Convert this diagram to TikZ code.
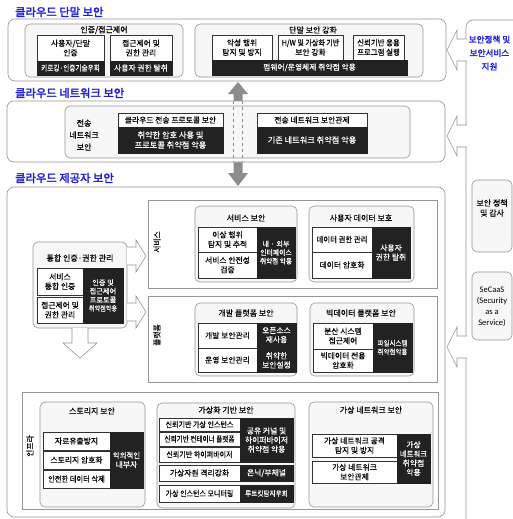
\documentclass[tikz,border=0pt]{standalone}
\usepackage{fontspec}
\setmainfont{Noto Sans CJK KR}[FakeBold=0.35, AutoFakeBold=2.2]
\newfontfamily\lat{Carlito}
\usepackage{graphicx}
\usetikzlibrary{fit}
\definecolor{ttlc}{RGB}{30,30,215}
\definecolor{kfill}{RGB}{34,34,34}
\definecolor{bdc}{RGB}{150,150,150}
\newcommand\cx[2]{\scalebox{#1}[1]{#2}}
\tikzset{
  shp/.style={inner sep=0pt, outer sep=0pt, line width=0.6pt},
  obox/.style={shp, draw=bdc, fill=white, rounded corners=7pt},
  grp/.style={shp, draw=bdc, fill=black!3, rounded corners=5pt},
  lyr/.style={shp, draw=bdc, fill=white},
  wb/.style={shp, draw=black!80, fill=white, line width=0.5pt},
  kb/.style={shp, draw=kfill, fill=kfill, line width=0.5pt},
  tx/.style={inner sep=0pt, align=center, font=\fontsize{7.8}{9.5}\selectfont},
  tk/.style={inner sep=0pt, align=center, text=white, font=\fontsize{7.8}{9.2}\selectfont},
  tkl/.style={tk, font=\fontsize{8.2}{10}\selectfont},
  tks/.style={tk, font=\fontsize{7.2}{8.6}\selectfont},
  gt/.style={inner sep=0pt, font=\fontsize{8}{9}\selectfont},
  sect/.style={inner sep=0pt, anchor=west, text=ttlc, font=\fontsize{11.3}{12}\selectfont\bfseries},
  vl/.style={inner sep=0pt, rotate=90, font=\fontsize{7.8}{9}\selectfont},
  holl/.style={draw=bdc, fill=white, line width=0.6pt},
}
\newcommand\bx[5]{\node[#1, fit={#2}] (#3) {};\node[#4] (#3t) at (#3.center) {#5};}
\newcommand\larr[2]{\draw[holl] (#1+20,#2-11) -- (#1+10,#2-11) -- (#1+10,#2-20) -- (#1,#2) -- (#1+10,#2+20) -- (#1+10,#2+11) -- (#1+20,#2+11);}
\begin{document}
\begin{tikzpicture}[x=1pt,y=-1pt]
\useasboundingbox (0,0) rectangle (513,519);
\clip (0,0) rectangle (513,519);
\fill[white] (0,0) rectangle (513,519);

% ---------- right panel ----------
\node[obox, fit={(466,20)(560,560)}] (RP) {};
\node[inner sep=0pt, align=center, text=ttlc, font=\fontsize{8.6}{13.5}\selectfont\bfseries] (RPt) at (489.5,53) {보안정책 및\\보안서비스\\지원};
\bx{grp}{(472,180)(512,252)}{RS}{gt}{}
\node[inner sep=0pt, align=center, font=\fontsize{8}{10}\selectfont] (RSx) at (492,208) {보안 정책\\및 감사};
\bx{grp}{(472,272)(512,340)}{SC}{tx}{}
\node[inner sep=0pt, align=center, font=\lat\fontsize{8.5}{11}\selectfont] (SCx) at (492,307) {SeCaaS\\(Security\\as a\\Service)};
\larr{447}{50}
\larr{447}{136}
\larr{447}{347}

% ---------- terminal ----------
\node[sect] (st1) at (15,12) {클라우드 단말 보안};
\node[obox, fit={(8,19)(446,81)}] (OT) {};
\node[grp, fit={(25,24)(183,77)}] (G1) {};
\node[gt] (G1t) at (104,30) {인증/접근제어};
\bx{wb}{(37,35)(104,61)}{W1}{tx}{사용자/단말\\인증}
\bx{kb}{(37,61)(104,75)}{K1}{tk}{\cx{0.85}{키로깅·인증기술우회}}
\bx{wb}{(110,35)(172,61)}{W2}{tx}{접근제어 및\\권한 관리}
\bx{kb}{(110,61)(172,75)}{K2}{tk}{사용자 권한 탈취}
\node[grp, fit={(195,24)(423,77)}] (G2) {};
\node[gt] (G2t) at (313,30) {단말 보안 강화};
\bx{wb}{(212,35)(272,60)}{W3}{tx}{악성 행위\\탐지 및 방지}
\bx{wb}{(278,35)(343,60)}{W4}{tx}{\cx{0.9}{H/W 및 가상화 기반}\\보안 강화}
\bx{wb}{(353,35)(404,60)}{W5}{tx}{\cx{0.95}{신뢰기반 응용}\\\cx{0.95}{프로그램 실행}}
\bx{kb}{(212,60)(407,75)}{K3}{tk}{펌웨어/운영체제 취약점 악용}

% ---------- gray double arrow ----------
\fill[black!45] (238,82) -- (248,94) -- (242.5,94) -- (242.5,173) -- (248,173) -- (238,186) -- (228,173) -- (233.5,173) -- (233.5,94) -- (228,94) -- cycle;

% ---------- network ----------
\node[sect] (st2) at (15,93) {클라우드 네트워크 보안};
\node[obox, fit={(7,101)(445,162)}] (ON) {};
\node[grp, fit={(65,106)(410,158)}] (IN) {};
\node[inner sep=0pt, align=center, font=\fontsize{8}{12}\selectfont] (INt) at (84,135) {전송\\네트워크\\보안};
\bx{wb}{(118,113)(223,127)}{W6}{tx}{클라우드 전송 프로토콜 보안}
\bx{kb}{(118,127)(223,153)}{K4}{tkl}{취약한 암호 사용 및\\프로토콜 취약점 악용}
\bx{wb}{(257,113)(367,127)}{W7}{tx}{전송 네트워크 보안관제}
\bx{kb}{(257,127)(367,153)}{K5}{tkl}{기존 네트워크 취약점 악용}
\draw[dashed, black!45, line width=0.4pt] (233.5,101) -- (233.5,162) (242.5,101) -- (242.5,162);

% ---------- provider ----------
\node[sect] (st3) at (15,178) {클라우드 제공자 보안};
\node[obox, fit={(7,187)(445,517)}] (OP) {};

% integrated auth
\node[grp, fit={(33,242)(127,328)}] (GA) {};
\node[gt] (GAt) at (80,258) {통합 인증·권한 관리};
\bx{wb}{(37,268)(83,295)}{WA1}{tx}{서비스\\통합 인증}
\bx{wb}{(37,297)(83,323)}{WA2}{tx}{접근제어 및\\권한 관리}
\bx{kb}{(83,268)(123,323)}{KA}{tks}{인증 및\\접근제어\\프로토콜\\\cx{0.85}{취약점악용}}
\draw[holl] (127,247) -- (136,247) -- (136,240) -- (146,256) -- (136,272) -- (136,265) -- (127,265);
\draw[holl] (127,303) -- (136,303) -- (136,296) -- (146,312) -- (136,328) -- (136,321) -- (127,321);
\draw[holl] (72,328) -- (72,343) -- (63,343) -- (80,358) -- (97,343) -- (88,343) -- (88,328);

% service layer
\node[lyr, fit={(148,200)(437,288)}] (LS) {};
\node[vl] (LSt) at (157,242) {서비스};
\node[grp, fit={(195,206)(297,282)}] (GS) {};
\node[gt] (GSt) at (246,218) {서비스 보안};
\bx{wb}{(198,227)(257,252)}{WS1}{tx}{이상 행위\\탐지 및 추적}
\bx{wb}{(198,252)(257,278)}{WS2}{tx}{서비스 안전성\\검증}
\bx{kb}{(257,227)(295,278)}{KS}{tks}{내 · 외부\\\cx{0.95}{인터페이스}\\\cx{0.92}{취약점 악용}}
\node[grp, fit={(309,206)(414,282)}] (GU) {};
\node[gt] (GUt) at (361,218) {사용자 데이터 보호};
\bx{wb}{(312,227)(372,252)}{WU1}{tx}{\cx{0.95}{데이터 권한 관리}}
\bx{wb}{(312,252)(372,278)}{WU2}{tx}{데이터 암호화}
\bx{kb}{(372,227)(410,278)}{KU}{tk}{사용자\\권한 탈취}

% platform layer
\node[lyr, fit={(148,296)(437,382)}] (LP) {};
\node[vl] (LPt) at (157,335) {플랫폼};
\node[grp, fit={(195,303)(297,376)}] (GD) {};
\node[gt] (GDt) at (246,313) {개발 플랫폼 보안};
\bx{wb}{(198,323)(257,348)}{WD1}{tx}{개발 보안관리}
\bx{wb}{(198,348)(257,372)}{WD2}{tx}{운영 보안관리}
\bx{kb}{(257,323)(296,347.3)}{KD1}{tk}{오픈소스\\재사용}
\bx{kb}{(257,348.7)(296,372)}{KD2}{tk}{취약한\\보안설정}
\node[grp, fit={(310,303)(414,376)}] (GB) {};
\node[gt] (GBt) at (361,313) {빅데이터 플랫폼 보안};
\bx{wb}{(313,323)(373,349)}{WB1}{tx}{분산 시스템\\접근제어}
\bx{wb}{(313,349)(373,372)}{WB2}{tx}{빅데이터 전용\\암호화}
\bx{kb}{(373,323)(412,372)}{KB}{tks}{\cx{0.9}{파일시스템}\\\cx{0.9}{취약점악용}}

% infra layer
\node[lyr, fit={(22,392)(438,509)}] (LI) {};
\node[vl] (LIt) at (30,446) {인프라};
\node[grp, fit={(40,402)(145,507)}] (GT) {};
\node[gt] (GTt) at (92,411) {스토리지 보안};
\bx{wb}{(43,432)(110,450)}{WT1}{tx}{자료유출방지}
\bx{wb}{(43,451)(110,469)}{WT2}{tx}{스토리지 암호화}
\bx{wb}{(43,470)(110,488)}{WT3}{tx}{\cx{0.93}{안전한 데이터 삭제}}
\bx{kb}{(110,432)(143,488)}{KT}{tk}{\cx{0.95}{악의적인}\\내부자}
\node[grp, fit={(157,403)(295,508)}] (GV) {};
\node[gt] (GVt) at (226,410) {가상화 기반 보안};
\bx{wb}{(159,418)(240,431)}{WV1}{tx}{\cx{0.9}{신뢰기반 가상 인스턴스}}
\bx{wb}{(159,432)(240,446)}{WV2}{tx}{\cx{0.85}{신뢰기반 컨테이너 플랫폼}}
\bx{wb}{(159,447)(240,462)}{WV3}{tx}{\cx{0.9}{신뢰기반 하이퍼바이저}}
\bx{kb}{(240,418)(293,462)}{KV1}{tk}{공유 커널 및\\하이퍼바이저\\취약점 악용}
\bx{wb}{(159,465)(240,481)}{WV4}{tx}{가상자원 격리강화}
\bx{kb}{(240,465)(293,481)}{KV2}{tk}{은닉/부채널}
\bx{wb}{(159,485)(240,502)}{WV5}{tx}{\cx{0.9}{가상 인스턴스 모니터링}}
\bx{kb}{(240,485)(293,502)}{KV3}{tks}{\cx{0.92}{루트킷탐지우회}}
\node[grp, fit={(309,402)(433,507)}] (GN) {};
\node[gt] (GNt) at (371,410) {가상 네트워크 보안};
\bx{wb}{(312,434)(397,457)}{WN1}{tx}{가상 네트워크 공격\\탐지 및 방지}
\bx{wb}{(312,461)(397,483)}{WN2}{tx}{가상 네트워크\\보안관제}
\bx{kb}{(397,434)(430,483)}{KN}{tk}{가상\\\cx{0.95}{네트워크}\\취약점\\악용}
\end{tikzpicture}
\end{document}
